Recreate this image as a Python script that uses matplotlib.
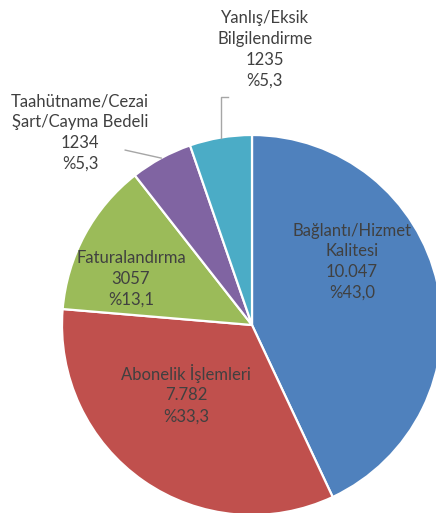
import numpy as np
import matplotlib
matplotlib.use("Agg")
import matplotlib.pyplot as plt

# data
categories = ["Bağlantı/Hizmet\nKalitesi", "Abonelik İşlemleri", "Faturalandırma",
              "Taahütname/Cezai\nŞart/Cayma Bedeli", "Yanlış/Eksik\nBilgilendirme"]
values = [10047, 7782, 3057, 1234, 1235]
value_labels = ["10.047", "7.782", "3057", "1234", "1235"]
pct_labels = ["%43,0", "%33,3", "%13,1", "%5,3", "%5,3"]
colors = ["#4F81BD", "#C0504D", "#9BBB59", "#8064A2", "#4BACC6"]

W, H = 436, 513
fig = plt.figure(figsize=(W/100, H/100), dpi=100)
ax = fig.add_axes([0, 0, 1, 1])
cx, cy, R = 252, H - 325, 190

wedges, _ = ax.pie(values, colors=colors, startangle=90, counterclock=False,
                   center=(cx, cy), radius=R,
                   wedgeprops=dict(edgecolor="white", linewidth=1.6))
ax.set_xlim(0, W); ax.set_ylim(0, H); ax.set_aspect("equal"); ax.axis("off")

# label offsets from pie centre, in radius units; last two sit outside with leaders
offs = [(0.526, 0.333), (-0.347, -0.363), (-0.637, 0.242), (-0.905, 1.012), (0.068, 1.45)]
tc = "#404040"
for i, w in enumerate(wedges):
    s = f"{categories[i]}\n{value_labels[i]}\n{pct_labels[i]}"
    tx, ty = cx + offs[i][0]*R, cy + offs[i][1]*R
    ax.text(tx, ty, s, ha="center", va="center", color=tc, fontsize=12,
            family=["Lato", "DejaVu Sans"], linespacing=1.36)
    if i >= 3:
        mid = np.deg2rad((w.theta1 + w.theta2)/2)
        ex, ey = cx + R*np.cos(mid), cy + R*np.sin(mid)
        if i == 4:
            ax.plot([ex, ex, ex + 7], [ey, ey + 41, ey + 41], color="#A6A6A6", lw=1)
        else:
            ax.plot([ex, ex - 36], [ey, ey + 8], color="#A6A6A6", lw=1)

fig.savefig("out.png", dpi=100)
